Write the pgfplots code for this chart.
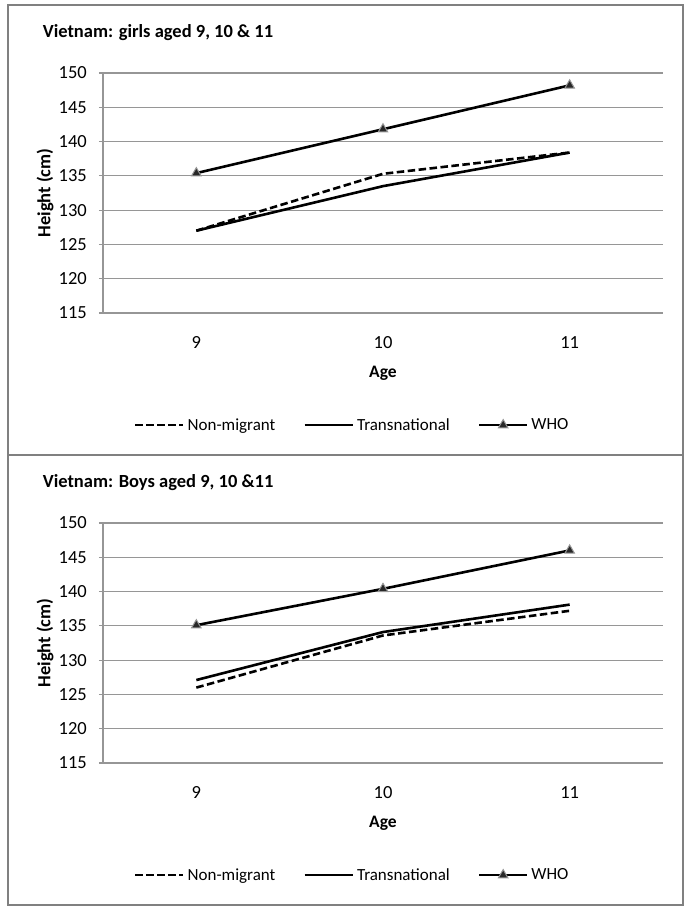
\documentclass[border=0pt]{standalone}
\usepackage{pgfplots}
\pgfplotsset{compat=1.18}
\usepackage{fontspec}
\setmainfont{Carlito}
\definecolor{gridc}{RGB}{150,150,150}
\definecolor{boxc}{RGB}{128,128,128}
\definecolor{markc}{RGB}{40,40,40}

\pgfplotsset{
  panel/.style={
    scale only axis, width=560pt, height=240pt,
    xmin=8.5, xmax=11.5, ymin=115, ymax=150,
    xtick={9,10,11}, ytick={115,120,...,150},
    axis x line*=bottom, axis y line*=left,
    axis line style={gridc, line width=1.2pt},
    ymajorgrids,
    grid style={gridc, line width=1.2pt},
    tick align=outside,
    major tick length=4pt,
    ytick style={gridc, line width=1.2pt},
    xtick style={draw=none},
    /pgf/number format/assume math mode=true,
    tick label style={font=\fontsize{18.5}{20}\selectfont},
    xticklabel style={anchor=base, yshift=-31pt},
    yticklabel style={anchor=east, inner xsep=0pt, xshift=-12pt},
    every axis x label/.style={at={(axis description cs:0.5,0)}, yshift=-64pt, anchor=base, font=\fontsize{17.5}{20}\selectfont\bfseries},
    every axis y label/.style={at={(axis description cs:0,0.5)}, xshift=-58pt, rotate=90, anchor=center, font=\fontsize{18.5}{20}\selectfont\bfseries},
    xlabel={Age}, ylabel={Height (cm)},
    title style={at={(axis description cs:-0.1077,1.125)}, anchor=base west, inner xsep=0pt, font=\fontsize{18.5}{20}\selectfont\bfseries},
    legend columns=3,
    legend style={at={(axis description cs:0.446,-0.467)}, anchor=center, draw=none, fill=none,
      font=\fontsize{17}{20}\selectfont,
      nodes={inner xsep=3pt, inner ysep=1pt},
      /tikz/every even column/.append style={column sep=25pt}},
    legend image code/.code={\draw[mark repeat=2,mark phase=2,##1] plot coordinates {(0pt,0pt) (24pt,0pt) (48pt,0pt)};},
  },
  nm/.style={black, line width=2.6pt, dash pattern=on 7.5pt off 3.5pt},
  tr/.style={black, line width=2.6pt},
  who/.style={black, line width=2.6pt, mark=triangle*, mark size=5.5pt, mark options={solid, fill=markc, draw=gridc, line width=1pt}},
}

\begin{document}
\begin{tikzpicture}
\path[use as bounding box] (0pt,0pt) rectangle (691pt,-910pt);
\draw[boxc, line width=1.2pt] (8pt,-5pt) rectangle (683pt,-455pt);
\draw[boxc, line width=1.2pt] (8pt,-455pt) rectangle (683pt,-905pt);

\begin{axis}[panel, at={(103pt,-313pt)}, anchor=south west,
  title={Vietnam: girls aged 9, 10 \& 11}]
\addplot[nm] coordinates {(9,127.0) (10,135.3) (11,138.4)};
\addplot[tr] coordinates {(9,127.0) (10,133.5) (11,138.4)};
\addplot[who] coordinates {(9,135.4) (10,141.8) (11,148.2)};
\legend{Non-migrant, Transnational, WHO}
\end{axis}

\begin{axis}[panel, at={(103pt,-763pt)}, anchor=south west,
  title={Vietnam: Boys aged 9, 10 \&11}]
\addplot[nm] coordinates {(9,126.0) (10,133.6) (11,137.2)};
\addplot[tr] coordinates {(9,127.1) (10,134.1) (11,138.1)};
\addplot[who] coordinates {(9,135.1) (10,140.4) (11,146.0)};
\legend{Non-migrant, Transnational, WHO}
\end{axis}
\end{tikzpicture}
\end{document}
